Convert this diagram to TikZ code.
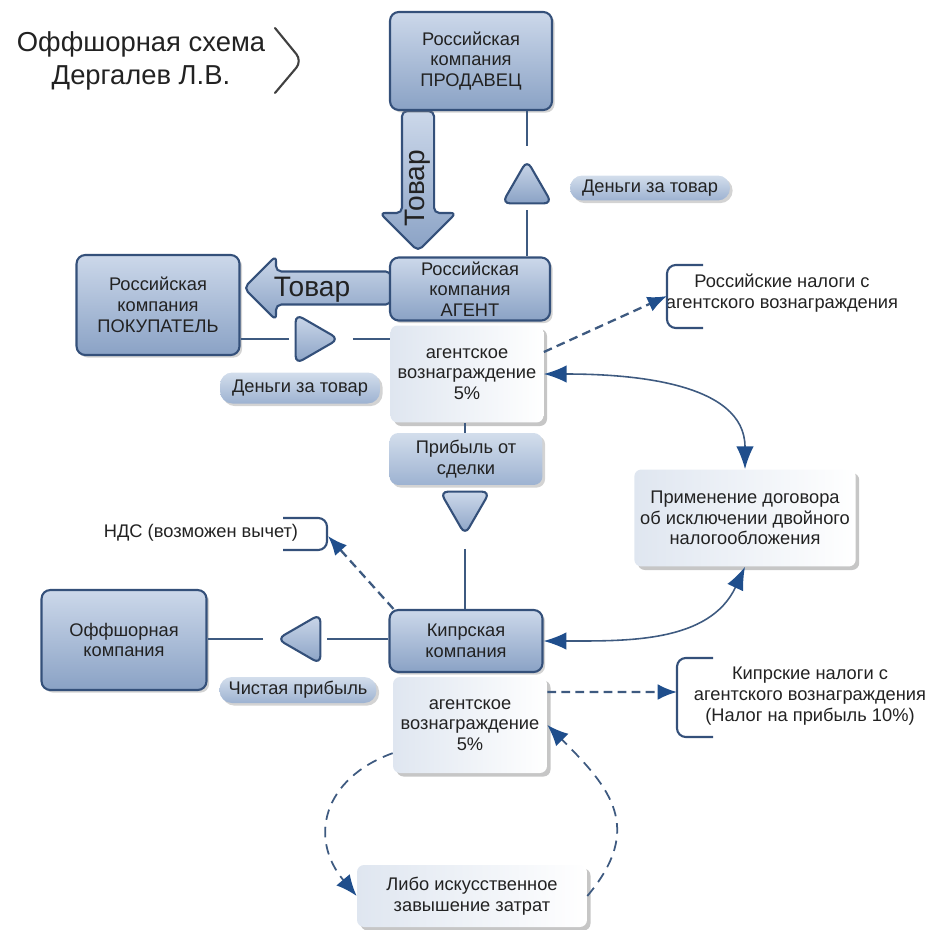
\documentclass[tikz,border=0pt]{standalone}
\usepackage{fontspec}
\setmainfont{Liberation Sans}
\usetikzlibrary{shapes.geometric,shapes.arrows,arrows.meta,shadows}

\definecolor{boxtop}{HTML}{CCD8EA}
\definecolor{boxbot}{HTML}{8AA2C5}
\definecolor{boxline}{HTML}{34507A}
\definecolor{flowline}{HTML}{3E5A80}
\definecolor{tipblue}{HTML}{1F4E8C}
\definecolor{pilltop}{HTML}{D3DEEC}
\definecolor{pillbot}{HTML}{9DB2D1}
\definecolor{whitetint}{HTML}{DFE6F0}
\definecolor{txt}{HTML}{222222}

\tikzset{
  boxfont/.style={font=\fontsize{10.4}{11.8}\selectfont},
  firm/.style={rectangle, rounded corners=5pt, draw=boxline, line width=1.2pt,
    top color=boxtop, bottom color=boxbot, align=center, text=txt, boxfont,
    drop shadow={shadow xshift=1.5pt, shadow yshift=-1.5pt, opacity=0.35}},
  note/.style={rectangle, rounded corners=4pt, left color=whitetint, right color=white,
    align=center, text=txt, boxfont,
    drop shadow={shadow xshift=2pt, shadow yshift=-2pt, opacity=0.45}},
  pill/.style={rectangle, rounded corners=7pt, top color=pilltop, bottom color=pillbot,
    align=center, text=txt, boxfont, inner sep=1.5pt,
    drop shadow={shadow xshift=1.5pt, shadow yshift=-1.5pt, opacity=0.35}},
  plaintext/.style={align=center, text=txt, boxfont, inner sep=1pt},
  heading/.style={align=center, text=txt, font=\fontsize{15.6}{18.8}\selectfont},
  tri/.style={regular polygon, regular polygon sides=3, minimum size=1.15cm,
    inner sep=0pt, outer sep=4pt, rounded corners=4.5pt, draw=boxline, line width=1.2pt,
    top color=boxtop, bottom color=boxbot},
  bigarrow/.style={single arrow, draw=boxline, line width=1.2pt, rounded corners=3pt,
    top color=boxtop, bottom color=boxbot},
  goodstext/.style={text=txt, font=\fontsize{16}{16}\selectfont, inner sep=0pt},
  flow/.style={draw=flowline, line width=1.4pt},
  link/.style={draw=flowline, line width=0.9pt,
    {Latex[length=13pt,width=10pt,color=tipblue]}-{Latex[length=13pt,width=10pt,color=tipblue]}},
  tax/.style={draw=flowline, line width=1.3pt, dash pattern=on 5pt off 3pt,
    -{Latex[length=11pt,width=9pt,color=tipblue]}},
  costflow/.style={draw=flowline, line width=1pt, dash pattern=on 6pt off 4pt,
    -{Latex[length=12pt,width=10pt,color=tipblue]}},
  bracket/.style={draw=boxline, line width=1.2pt, rounded corners=5pt},
  chev/.style={draw=black!75, line width=1.2pt, rounded corners=5pt, line cap=round}
}

\begin{document}
\begin{tikzpicture}[x=0.02cm, y=-0.02cm]
\useasboundingbox (0,0) rectangle (932,929);

% title
\node[heading] (title) at (141,61) {Оффшорная схема\\Дергалев Л.В.};
\draw[chev] (275,28) -- (302,61) -- (275,93);

% goods
\node[bigarrow, shape border rotate=270, minimum height=2.8cm, inner xsep=0.3cm, inner ysep=0pt,
  single arrow head extend=0.44cm, anchor=tail] (goodsdown) at (418,110) {};
\node[goodstext, rotate=90] (goodsdowntext) at (418,188) {Товар};
\node[bigarrow, shape border rotate=180, minimum height=2.94cm, inner xsep=0pt, inner ysep=0.31cm,
  single arrow head extend=0.31cm, anchor=tail] (goodsleft) at (392,288) {};
\node[goodstext] (goodslefttext) at (312,290) {Товар};

% companies
\node[firm, minimum width=3.24cm, minimum height=1.96cm] (seller) at (471,61) {Российская\\компания\\ПРОДАВЕЦ};
\node[firm, minimum width=3.2cm, minimum height=1.26cm, inner sep=1pt] (agent) at (470,289) {Российская\\компания\\АГЕНТ};
\node[note, minimum width=3.06cm, minimum height=1.94cm] (fee1) at (467,374) {агентское\\вознаграждение\\5\%};
\node[firm, minimum width=3.26cm, minimum height=2cm] (buyer) at (158,305) {Российская\\компания\\ПОКУПАТЕЛЬ};
\node[pill, minimum width=3.2cm, minimum height=0.5cm] (money1) at (650,188) {Деньги за товар};
\node[pill, minimum width=3.2cm, minimum height=0.62cm] (money2) at (300,388) {Деньги за товар};
\node[pill, rounded corners=5pt, minimum width=3.06cm, minimum height=1.04cm] (profit) at (466,459) {Прибыль от\\сделки};
\node[note, minimum width=4.28cm, minimum height=1.94cm] (treaty) at (745,518) {Применение договора\\об исключении двойного\\налогообложения};
\node[firm, minimum width=3.06cm, minimum height=1.24cm] (cyprus) at (466,641) {Кипрская\\компания};
\node[note, minimum width=3.08cm, minimum height=1.92cm] (fee2) at (470,725) {агентское\\вознаграждение\\5\%};
\node[firm, minimum width=3.3cm, minimum height=2cm] (offshore) at (124,640) {Оффшорная\\компания};
\node[pill, minimum width=3.14cm, minimum height=0.52cm] (netprofit) at (298,690) {Чистая прибыль};
\node[note, minimum width=4.6cm, minimum height=1.24cm] (costs) at (472,896) {Либо искусственное\\завышение затрат};

% taxes
\node[plaintext] (rutax) at (782,293) {Российские налоги с\\агентского вознаграждения};
\node[plaintext] (cytax) at (810,696) {Кипрские налоги с\\агентского вознаграждения\\(Налог на прибыль 10\%)};
\node[plaintext] (vat) at (201,533) {НДС (возможен вычет)};
\draw[bracket] (703,265) -| (667,328) -- (703,328);
\draw[bracket] (713,658) -| (677,737) -- (713,737);
\draw[bracket] (283,518) -| (327,550) -- (283,550);
\coordinate (rubr) at (667,296);
\coordinate (cybr) at (677,692);
\coordinate (vatbr) at (328,536);

% money flows
\node[tri] (paytri) at (527,189) {};
\draw[flow] (seller.south -| paytri) -- (paytri);
\draw[flow] (paytri) -- (agent.north -| paytri);
\node[tri, rotate=-90] (buytri) at (310,339) {};
\draw[flow] (buyer.east |- buytri) -- (buytri);
\draw[flow] (buytri) -- (fee1.west |- buytri);
\node[tri, rotate=180] (proftri) at (465,506) {};
\draw[flow] (fee1.south -| proftri) -- (profit.north -| proftri);
\draw[flow] (proftri) -- (cyprus.north -| proftri);
\node[tri, rotate=90] (nettri) at (306,639) {};
\draw[flow] (cyprus.west |- nettri) -- (nettri);
\draw[flow] (nettri) -- (offshore.east |- nettri);

% treaty
\draw[link] (fee1.east) to[out=0, in=90] (treaty.north);
\draw[link] (cyprus.east) to[out=0, in=-115] (treaty.south);

% tax arrows
\draw[tax] ([yshift=0.44cm]fee1.east) -- (rubr);
\draw[tax] ([yshift=0.66cm]fee2.east) -- (cybr);
\draw[tax] ([xshift=0.1cm]cyprus.north west) -- (vatbr);

% costs loop
\draw[costflow] (fee2.200) to[out=200, in=130, looseness=1.3] (costs.west);
\draw[costflow] (costs.east) to[out=50, in=-45, looseness=1.3] (fee2.east);
\end{tikzpicture}
\end{document}
